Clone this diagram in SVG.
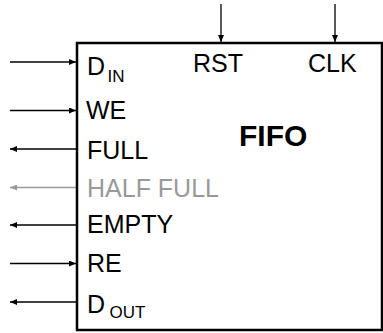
<svg xmlns="http://www.w3.org/2000/svg" width="383" height="333" viewBox="0 0 383 333">
  <defs>
    <marker id="ah" markerWidth="8" markerHeight="6" refX="7" refY="3" orient="auto" markerUnits="userSpaceOnUse">
      <path d="M0,0 L7,3 L0,6 Z" fill="#000"/>
    </marker>
    <marker id="ahg" markerWidth="8" markerHeight="6" refX="7" refY="3" orient="auto" markerUnits="userSpaceOnUse">
      <path d="M0,0 L7,3 L0,6 Z" fill="#999"/>
    </marker>
  </defs>
  <style>
    .w { stroke: #000; stroke-width: 1.3; fill: none; marker-end: url(#ah); }
    .g { stroke: #999; stroke-width: 1.3; fill: none; marker-end: url(#ahg); }
    .t { font-family: "Liberation Sans", Arial, sans-serif; font-size: 25px; fill: #000; }
    .s { font-size: 17px; }
    .gray { fill: #999; }
    .b { font-weight: bold; font-size: 30px; }
  </style>
  <rect width="383" height="333" fill="#fff"/>
  <g id="connectors">
    <line class="w" x1="10" y1="62" x2="76" y2="62"/>
    <line class="w" x1="10" y1="110.5" x2="76" y2="110.5"/>
    <line class="w" x1="76" y1="149" x2="10" y2="149"/>
    <line class="g" x1="76" y1="187.5" x2="10" y2="187.5"/>
    <line class="w" x1="76" y1="225" x2="10" y2="225"/>
    <line class="w" x1="10" y1="263.5" x2="76" y2="263.5"/>
    <line class="w" x1="76" y1="302" x2="10" y2="302"/>
    <line class="w" x1="221" y1="4" x2="221" y2="42"/>
    <line class="w" x1="335" y1="4" x2="335" y2="42"/>
  </g>
  <g id="fifo">
    <rect x="77" y="43" width="305" height="287" fill="none" stroke="#000" stroke-width="2.5"/>
    <text class="t b" x="239" y="146">FIFO</text>
    <text class="t" x="193" y="72">RST</text>
    <text class="t" x="308" y="72">CLK</text>
    <text class="t" x="87" y="75">D<tspan class="s" x="107.5" y="82">IN</tspan></text>
    <text class="t" x="86" y="119">WE</text>
    <text class="t" x="87" y="159">FULL</text>
    <text class="t gray" x="87" y="197">HALF FULL</text>
    <text class="t" x="87" y="233">EMPTY</text>
    <text class="t" x="87" y="272">RE</text>
    <text class="t" x="87" y="313">D<tspan class="s" x="109.5" y="318">OUT</tspan></text>
  </g>
</svg>
